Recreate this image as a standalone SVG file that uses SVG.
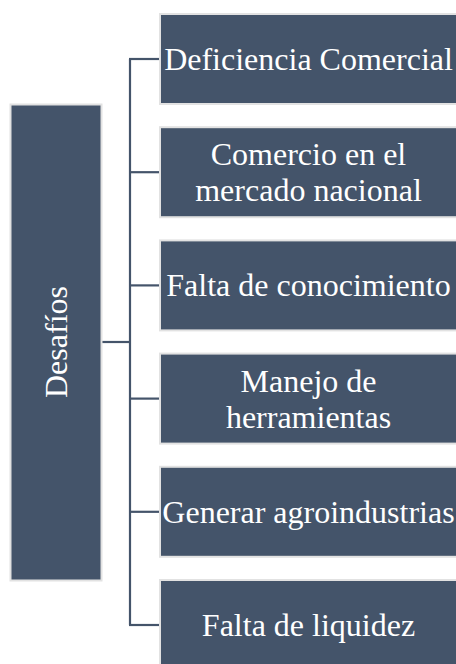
<svg xmlns="http://www.w3.org/2000/svg" width="456" height="664" viewBox="0 0 456 664">
<style>
.box{fill:#44546A;stroke:#E2E2E2;stroke-width:2}
.t{font-family:"Liberation Serif","Times New Roman",serif;font-size:32px;fill:#FFFFFF;text-anchor:middle}
.c{stroke:#44546A;stroke-width:2.2;fill:none}
</style>
<rect width="456" height="664" fill="#FFFFFF"/>
<g id="connectors">
<line class="c" x1="130" y1="59" x2="130" y2="625"/>
<line class="c" x1="102" y1="342" x2="130" y2="342"/>
<line class="c" x1="129" y1="59" x2="160" y2="59"/>
<line class="c" x1="130" y1="172.2" x2="160" y2="172.2"/>
<line class="c" x1="130" y1="285.4" x2="160" y2="285.4"/>
<line class="c" x1="130" y1="398.6" x2="160" y2="398.6"/>
<line class="c" x1="130" y1="511.8" x2="160" y2="511.8"/>
<line class="c" x1="129" y1="625" x2="160" y2="625"/>
</g>
<g id="root">
<rect class="box" x="10.5" y="104.5" width="91" height="476"/>
<text class="t" transform="translate(67,342) rotate(-90)">Desafíos</text>
</g>
<g id="n1">
<rect class="box" x="160" y="14" width="300" height="90"/>
<text class="t" x="308.5" y="70">Deficiencia Comercial</text>
</g>
<g id="n2">
<rect class="box" x="160" y="127.2" width="300" height="90"/>
<text class="t" x="308.5" y="165">Comercio en el</text>
<text class="t" x="308.5" y="201">mercado nacional</text>
</g>
<g id="n3">
<rect class="box" x="160" y="240.4" width="300" height="90"/>
<text class="t" x="308.5" y="296.4">Falta de conocimiento</text>
</g>
<g id="n4">
<rect class="box" x="160" y="353.6" width="300" height="90"/>
<text class="t" x="308.5" y="391.6">Manejo de</text>
<text class="t" x="308.5" y="427.6">herramientas</text>
</g>
<g id="n5">
<rect class="box" x="160" y="466.8" width="300" height="90"/>
<text class="t" x="308.5" y="522.8">Generar agroindustrias</text>
</g>
<g id="n6">
<rect class="box" x="160" y="580" width="300" height="90"/>
<text class="t" x="308.5" y="636">Falta de liquidez</text>
</g>
</svg>
